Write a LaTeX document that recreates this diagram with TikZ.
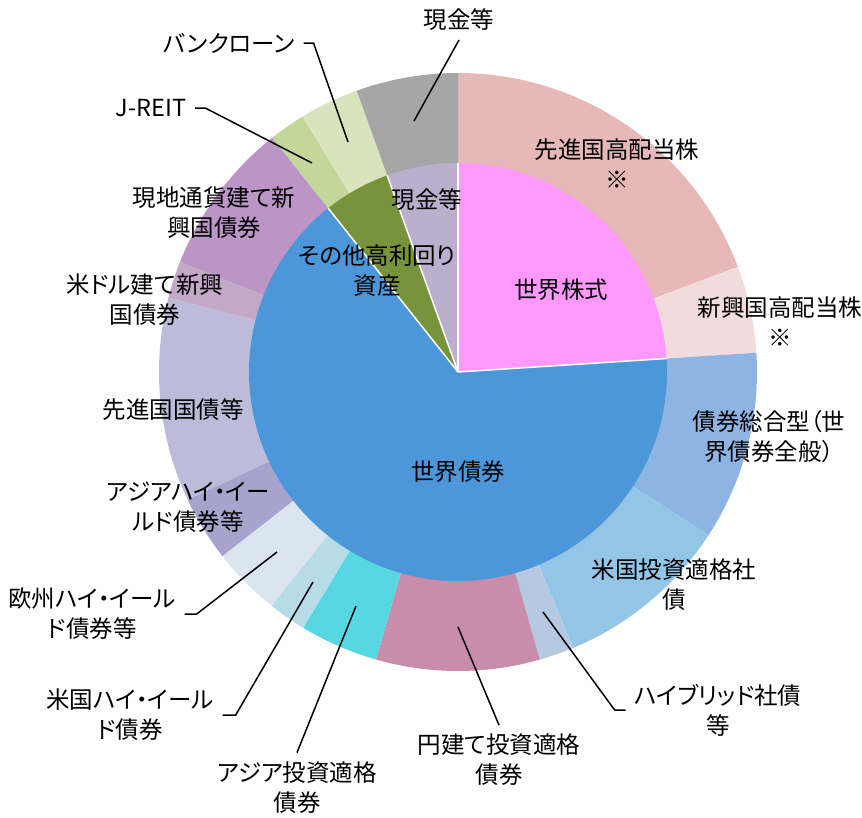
\documentclass[tikz,border=0pt]{standalone}
\usepackage{fontspec}
\setmainfont[RawFeature=+palt]{Noto Sans CJK JP}
\definecolor{stockcol}{HTML}{FF99FF}
\definecolor{bondcol}{HTML}{4B97DA}
\definecolor{othercol}{HTML}{77933C}
\definecolor{cashincol}{HTML}{BAAFCC}
\definecolor{devdivcol}{HTML}{E6B8B7}
\definecolor{emdivcol}{HTML}{F2DCDB}
\definecolor{aggcol}{HTML}{8EB4E3}
\definecolor{usigcol}{HTML}{93C5E6}
\definecolor{hybcol}{HTML}{B6C9E3}
\definecolor{yencol}{HTML}{C78DAB}
\definecolor{asiaigcol}{HTML}{57D7E2}
\definecolor{ushycol}{HTML}{B6DDE7}
\definecolor{euhycol}{HTML}{DBE5F0}
\definecolor{asiahycol}{HTML}{A6A3CC}
\definecolor{devgovcol}{HTML}{BCBBD9}
\definecolor{usdemcol}{HTML}{C3A8C8}
\definecolor{localcol}{HTML}{BA95C6}
\definecolor{jreitcol}{HTML}{C4D79B}
\definecolor{bankcol}{HTML}{D8E4BC}
\definecolor{cashoutcol}{HTML}{A6A6A6}
\tikzset{
  lbl/.style={font=\fontsize{23.5}{30}\selectfont, align=center, inner sep=0pt},
  outlbl/.style={lbl, outer sep=9pt},
  leader/.style={draw=black, line width=1.5pt},
}
\begin{document}
\begin{tikzpicture}[x=1pt, y=-1pt]
  \useasboundingbox (0,0) rectangle (862,817);
  \begin{scope}[shift={(458,372)}]
    \foreach \a/\b/\c in {-90/-20.6/devdivcol, -20.6/-3.7/emdivcol,
        -3.7/33.1/aggcol, 33.1/67.3/usigcol, 67.3/74.1/hybcol,
        74.1/105.9/yencol, 105.9/121.2/asiaigcol, 121.2/128.6/ushycol,
        128.6/142/euhycol, 142/154.7/asiahycol, 154.7/194.4/devgovcol,
        194.4/201.6/usdemcol, 201.6/231.6/localcol, 231.6/238.7/jreitcol,
        238.7/250.2/bankcol, 250.2/270/cashoutcol}{
      \fill[\c] (0,0) -- (\a:299) arc[start angle=\a, end angle=\b, radius=299] -- cycle;
    }
    \foreach \a/\b/\c in {-90/-3.7/stockcol, -3.7/231.6/bondcol,
        231.6/250.2/othercol, 250.2/270/cashincol}{
      \fill[\c] (0,0) -- (\a:209) arc[start angle=\a, end angle=\b, radius=209] -- cycle;
    }
    \foreach \a in {-90, -3.7, 231.6, 250.2}
      \draw[white, line width=1.5pt] (0,0) -- (\a:209);
  \end{scope}

  \node[lbl] (devdiv) at (617,163.5) {先進国高配当株\\※};
  \node[lbl] (emdiv) at (780,322) {新興国高配当株\\※};
  \node[lbl] (aggbond) at (769,437) {債券総合型（世\\界債券全般）};
  \node[lbl] (usig) at (674,585) {米国投資適格社\\債};
  \node[lbl] (stock) at (561,290) {世界株式};
  \node[lbl] (bond) at (458,472) {世界債券};
  \node[lbl] (cashin) at (427,200) {現金等};
  \node[lbl] (other) at (377,271) {その他高利回り\\資産};
  \node[lbl] (localem) at (214,213) {現地通貨建て新\\興国債券};
  \node[lbl] (usdem) at (145,299.5) {米ドル建て新興\\国債券};
  \node[lbl] (devgov) at (173,410) {先進国国債等};
  \node[lbl] (asiahy) at (188,507.5) {アジアハイ・イー\\ルド債券等};

  \node[outlbl] (cashtop) at (459,20) {現金等};
  \node[outlbl] (bankloan) at (229,43) {バンクローン};
  \node[outlbl] (jreit) at (151,108) {J-REIT};
  \node[outlbl] (euhy) at (92,614) {欧州ハイ・イール\\ド債券等};
  \node[outlbl] (ushy) at (130,715) {米国ハイ・イール\\ド債券};
  \node[outlbl] (asiaig) at (297,787.5) {アジア投資適格\\債券};
  \node[outlbl] (yenig) at (499,760) {円建て投資適格\\債券};
  \node[outlbl] (hybrid) at (718,710) {ハイブリッド社債\\等};

  \coordinate (cash-pt) at (414,121);
  \coordinate (bank-pt) at (348,142);
  \coordinate (jreit-pt) at (312,163);
  \coordinate (euhy-pt) at (277,552);
  \coordinate (ushy-pt) at (313,582);
  \coordinate (asiaig-pt) at (356,606);
  \coordinate (yen-pt) at (458,627);
  \coordinate (hyb-pt) at (543,612);

  \draw[leader] (cashtop.south) -- (cash-pt);
  \draw[leader] (bankloan.east) -- ++(10,0) -- (bank-pt);
  \draw[leader] (jreit.east) -- ++(10,0) -- (jreit-pt);
  \draw[leader] (euhy.east) -- ++(12,0) -- (euhy-pt);
  \draw[leader] (ushy.east) -- ++(13,0) -- (ushy-pt);
  \draw[leader] (asiaig.north) -- (asiaig-pt);
  \draw[leader] (yenig.north) -- (yen-pt);
  \draw[leader] (hybrid.west) -- ++(-11,0) -- (hyb-pt);
\end{tikzpicture}
\end{document}
